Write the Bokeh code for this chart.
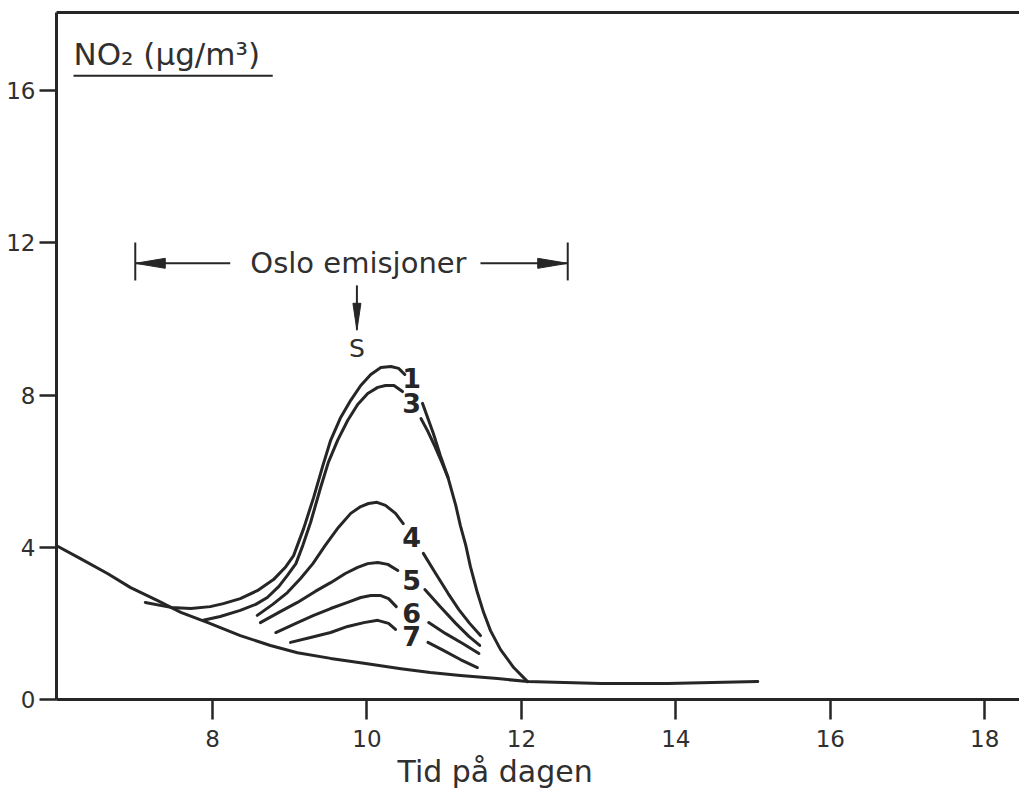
from bokeh.plotting import figure
from bokeh.models import Range1d, LinearAxis, FixedTicker, Title
from bokeh.core.properties import value
from bokeh.embed import file_html
from bokeh.resources import INLINE

# ---- data: hour of day (x) and NO2 concentration in µg/m3 (y) ----
# background level without Oslo emissions
base_x = [6.0, 6.29, 6.64, 6.94, 7.29, 7.59, 7.94, 8.36, 8.75, 9.10, 9.53, 9.96, 10.44,
          10.82, 11.21, 11.69, 12.08, 13.03, 13.89, 15.06]
base_y = [4.02, 3.70, 3.31, 2.94, 2.60, 2.29, 2.02, 1.68, 1.42, 1.23, 1.08, 0.95, 0.81,
          0.71, 0.63, 0.55, 0.47, 0.42, 0.42, 0.47]

# curve 1: rising branch and the common falling branch
c1_x = [7.13, 7.46, 7.72, 7.97, 8.14, 8.36, 8.58, 8.79, 8.95, 9.05, 9.18, 9.31, 9.43,
        9.53, 9.66, 9.79, 9.92, 10.05, 10.18, 10.31, 10.41, 10.49]
c1_y = [2.55, 2.42, 2.39, 2.44, 2.52, 2.65, 2.86, 3.15, 3.49, 3.78, 4.49, 5.31, 6.15,
        6.81, 7.41, 7.86, 8.25, 8.54, 8.72, 8.75, 8.70, 8.54]
c1b_x = [10.72, 10.86, 10.95, 11.05, 11.15, 11.21, 11.28, 11.34, 11.43, 11.51, 11.60, 11.73, 11.90, 12.08]
c1b_y = [7.78, 6.99, 6.41, 5.83, 5.10, 4.57, 4.05, 3.49, 2.81, 2.29, 1.81, 1.31, 0.84, 0.47]

# curve 3
c3_x = [7.88, 8.10, 8.36, 8.56, 8.71, 8.86, 8.97, 9.08, 9.17, 9.27, 9.40, 9.50, 9.62,
        9.75, 9.88, 10.01, 10.14, 10.24, 10.35, 10.46]
c3_y = [2.08, 2.18, 2.34, 2.50, 2.68, 2.97, 3.26, 3.57, 4.05, 4.65, 5.57, 6.23, 6.81,
        7.33, 7.75, 8.04, 8.20, 8.25, 8.25, 8.09]
c3b_x = [10.70, 10.79, 10.88, 10.97, 11.05]
c3b_y = [7.38, 7.04, 6.65, 6.23, 5.83]

# curve 4
c4_x = [8.58, 8.78, 8.97, 9.14, 9.30, 9.46, 9.63, 9.79, 9.92, 10.02, 10.13, 10.24, 10.37, 10.47]
c4_y = [2.21, 2.50, 2.81, 3.18, 3.57, 4.05, 4.52, 4.89, 5.07, 5.15, 5.18, 5.10, 4.89, 4.62]
c4b_x = [10.73, 10.89, 11.05, 11.19, 11.33, 11.47]
c4b_y = [3.84, 3.31, 2.79, 2.36, 2.00, 1.68]

# curve 5
c5_x = [8.62, 8.86, 9.10, 9.33, 9.53, 9.72, 9.88, 10.01, 10.14, 10.27, 10.40]
c5_y = [2.02, 2.29, 2.55, 2.84, 3.07, 3.31, 3.47, 3.57, 3.60, 3.55, 3.39]
c5b_x = [10.75, 10.95, 11.15, 11.32, 11.46]
c5b_y = [2.89, 2.44, 2.00, 1.66, 1.42]

# curve 6
c6_x = [8.82, 9.08, 9.31, 9.53, 9.75, 9.92, 10.05, 10.18, 10.28, 10.38]
c6_y = [1.76, 2.00, 2.21, 2.39, 2.55, 2.68, 2.73, 2.73, 2.65, 2.44]
c6b_x = [10.80, 11.02, 11.24, 11.45]
c6b_y = [2.02, 1.73, 1.47, 1.21]

# curve 7
c7_x = [9.01, 9.27, 9.53, 9.75, 9.96, 10.14, 10.28, 10.37]
c7_y = [1.50, 1.63, 1.76, 1.92, 2.02, 2.08, 2.00, 1.84]
c7b_x = [10.79, 10.99, 11.21, 11.43]
c7b_y = [1.50, 1.29, 1.05, 0.84]

# curve numbers, written in the gap of each curve
curve_names = ["1", "3", "4", "5", "6", "7"]
name_x = [10.58, 10.58, 10.58, 10.58, 10.58, 10.58]
name_y = [8.46, 7.78, 4.26, 3.13, 2.26, 1.66]

# emission period and source time
emis_start = 7.0
emis_end = 12.6
source_hour = 9.87

x_ticks = [8, 10, 12, 14, 16, 18]
y_ticks = [0, 4, 8, 12, 16]

# ---- figure ----
W, H = 1019, 794
LEFT, TOP, BOTTOM = 56, 12, 95
X0, X1 = 5.98, 18.45
Y0, Y1 = 0.0, 18.05
ink = "#262626"
text_ink = "#303030"
font = "DejaVu Sans"

p = figure(width=W, height=H, x_range=Range1d(X0, X1), y_range=Range1d(Y0, Y1),
           output_backend="svg", toolbar_location=None,
           min_border_left=LEFT, min_border_right=0,
           min_border_top=TOP, min_border_bottom=BOTTOM)
p.outline_line_color = None
p.grid.visible = False
p.background_fill_color = "white"
p.border_fill_color = "white"

for ax in (p.xaxis[0], p.yaxis[0]):
    ax.axis_line_color = ink
    ax.axis_line_width = 3
    ax.major_tick_line_color = ink
    ax.major_tick_line_width = 2.5
    ax.major_tick_in = 0
    ax.minor_tick_in = 0
    ax.minor_tick_out = 0
    ax.major_label_text_font = font
    ax.major_label_text_font_size = "23px"
    ax.major_label_text_color = text_ink

p.xaxis.ticker = FixedTicker(ticks=x_ticks)
p.xaxis.major_tick_out = 20
p.xaxis.major_label_standoff = 10
p.yaxis.ticker = FixedTicker(ticks=y_ticks)
p.yaxis.major_tick_out = 17
p.yaxis.major_label_standoff = 4

# frame line along the top
top = LinearAxis(ticker=FixedTicker(ticks=[]), major_tick_out=0, major_tick_in=0,
                 minor_tick_out=0, minor_tick_in=0, major_label_text_font_size="0px",
                 major_label_standoff=0, axis_line_color=ink, axis_line_width=3)
p.add_layout(top, "above")

# x axis title, set off to the left of the frame centre
p.add_layout(Title(text="Tid på dagen", align="left", offset=341, standoff=5,
                   text_font=font, text_font_size="30px", text_font_style="normal",
                   text_color=text_ink), "below")

# ---- curves ----
line_kw = dict(line_color=ink, line_width=3, line_cap="round", line_join="round")
p.line(base_x, base_y, **line_kw)
for xs, ys in [(c1_x, c1_y), (c1b_x, c1b_y), (c3_x, c3_y), (c3b_x, c3b_y),
               (c4_x, c4_y), (c4b_x, c4b_y), (c5_x, c5_y), (c5b_x, c5b_y),
               (c6_x, c6_y), (c6b_x, c6b_y), (c7_x, c7_y), (c7b_x, c7b_y)]:
    p.line(xs, ys, **line_kw)

p.text(x=name_x, y=name_y, text=curve_names, text_font=value(font),
       text_font_style="bold", text_font_size="27px", text_color=ink,
       text_align="center", text_baseline="middle")

# ---- annotations ----
px_x = (W - LEFT) / (X1 - X0)
px_y = (H - TOP - BOTTOM) / (Y1 - Y0)


def head(tip_x, tip_y, dx, dy, length=30, half=5):
    """Narrow filled arrow head; (dx, dy) is the screen direction it points to."""
    bx = tip_x - dx * length / px_x
    by = tip_y + dy * length / px_y
    ox = -dy * half / px_x
    oy = dx * half / px_y
    return [tip_x, bx + ox, bx - ox], [tip_y, by - oy, by + oy]


bar_y = 11.46
seg_kw = dict(line_color=ink, line_width=2)
# end bars of the emission period
p.segment(x0=[emis_start, emis_end], y0=[11.01, 11.01],
          x1=[emis_start, emis_end], y1=[12.01, 12.01], **seg_kw)
# arrow shafts either side of the text
p.segment(x0=[emis_start, 11.47], y0=[bar_y, bar_y],
          x1=[8.23, emis_end], y1=[bar_y, bar_y], **seg_kw)
hl = head(emis_start, bar_y, -1, 0)
hr = head(emis_end, bar_y, 1, 0)
p.patches([hl[0], hr[0]], [hl[1], hr[1]], fill_color=ink, line_color=ink, line_width=1)

p.text(x=[9.89], y=[bar_y], text=["Oslo emisjoner"], text_font=value(font),
       text_font_size="29px", text_color=text_ink, text_align="center",
       text_baseline="middle")

# source marker
p.segment(x0=[source_hour], y0=[10.88], x1=[source_hour], y1=[9.72], **seg_kw)
hd = head(source_hour, 9.70, 0, 1, length=27, half=4)
p.patch(hd[0], hd[1], fill_color=ink, line_color=ink, line_width=1)
p.text(x=[source_hour], y=[9.22], text=["S"], text_font=value(font),
       text_font_size="25px", text_color=text_ink, text_align="center",
       text_baseline="middle")

# quantity and unit, underlined, inside the frame
p.text(x=[6.20], y=[16.95], text=["NO₂ (µg/m³)"], text_font=value(font),
       text_font_size="31px", text_color=text_ink,
       text_baseline="middle", text_align="left")
p.segment(x0=[6.20], y0=[16.39], x1=[8.78], y1=[16.39], line_color=ink, line_width=2)

open("out.html", "w").write(file_html(p, INLINE))
